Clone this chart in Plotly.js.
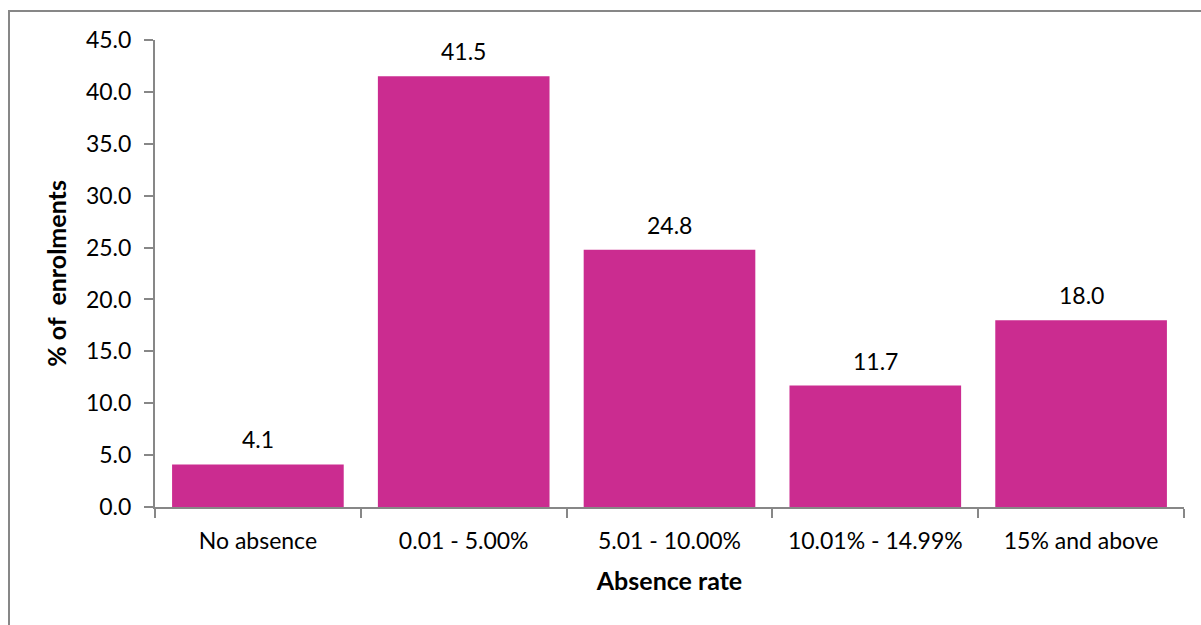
<!DOCTYPE html>
<html>
<head>
<meta charset="utf-8">
<script src="https://cdn.plot.ly/plotly-3.0.1.min.js"></script>
<style>
html,body{margin:0;padding:0;background:#fff;}
#wrap{position:relative;width:1201px;height:625px;overflow:hidden;}
#chart{position:absolute;left:0;top:0;width:1201px;height:625px;}
#frame{position:absolute;left:8px;top:10px;width:1300px;height:700px;border:2px solid #878787;pointer-events:none;}
</style>
</head>
<body>
<div id="wrap">
<div id="chart"></div>
<div id="frame"></div>
</div>
<script>
const categories = ["No absence", "0.01 - 5.00%", "5.01 - 10.00%", "10.01% - 14.99%", "15% and above"];
const values = [4.1, 41.5, 24.8, 11.7, 18.0];
const yTicks = [0, 5, 10, 15, 20, 25, 30, 35, 40, 45];

const FONT = "Lato, 'Open Sans', sans-serif";
const FS = 23;
const TFS = 25;
const barColor = "#CB2C90";

const trace = {
  type: "bar",
  x: categories,
  y: values,
  marker: {color: barColor, line: {width: 0}},
  hoverinfo: "x+y"
};

const annotations = values.map((v, i) => ({
  x: categories[i], y: v, xref: "x", yref: "y",
  text: v.toFixed(1), showarrow: false,
  yanchor: "bottom", yshift: 9,
  font: {family: FONT, size: FS, color: "#000"}
}));

const layout = {
  width: 1201, height: 625,
  margin: {l: 155, r: 17, t: 40, b: 118},
  paper_bgcolor: "rgba(0,0,0,0)",
  plot_bgcolor: "#fff",
  bargap: 0.166,
  showlegend: false,
  font: {family: FONT, size: FS, color: "#000"},
  xaxis: {
    type: "category",
    showline: true, linecolor: "#878787", linewidth: 2,
    ticks: "outside", tickson: "boundaries", ticklen: 9, tickwidth: 2, tickcolor: "#878787",
    showgrid: false, zeroline: false,
    tickfont: {family: FONT, size: FS, color: "#000"},
    ticklabelstandoff: 12,
    title: {text: "<b>Absence rate</b>", font: {family: FONT, size: TFS, color: "#000"}, standoff: 20}
  },
  yaxis: {
    range: [0, 45],
    tickvals: yTicks,
    ticktext: yTicks.map(t => t.toFixed(1)),
    showline: true, linecolor: "#878787", linewidth: 2,
    ticks: "outside", ticklen: 9, tickwidth: 2, tickcolor: "#878787",
    showgrid: false, zeroline: false,
    tickfont: {family: FONT, size: FS, color: "#000"},
    ticklabelstandoff: 8,
    title: {text: "<b>% of  enrolments</b>", font: {family: FONT, size: TFS, color: "#000"}, standoff: 12}
  },
  annotations: annotations
};

Plotly.newPlot("chart", [trace], layout, {displayModeBar: false, staticPlot: true});
</script>
</body>
</html>
